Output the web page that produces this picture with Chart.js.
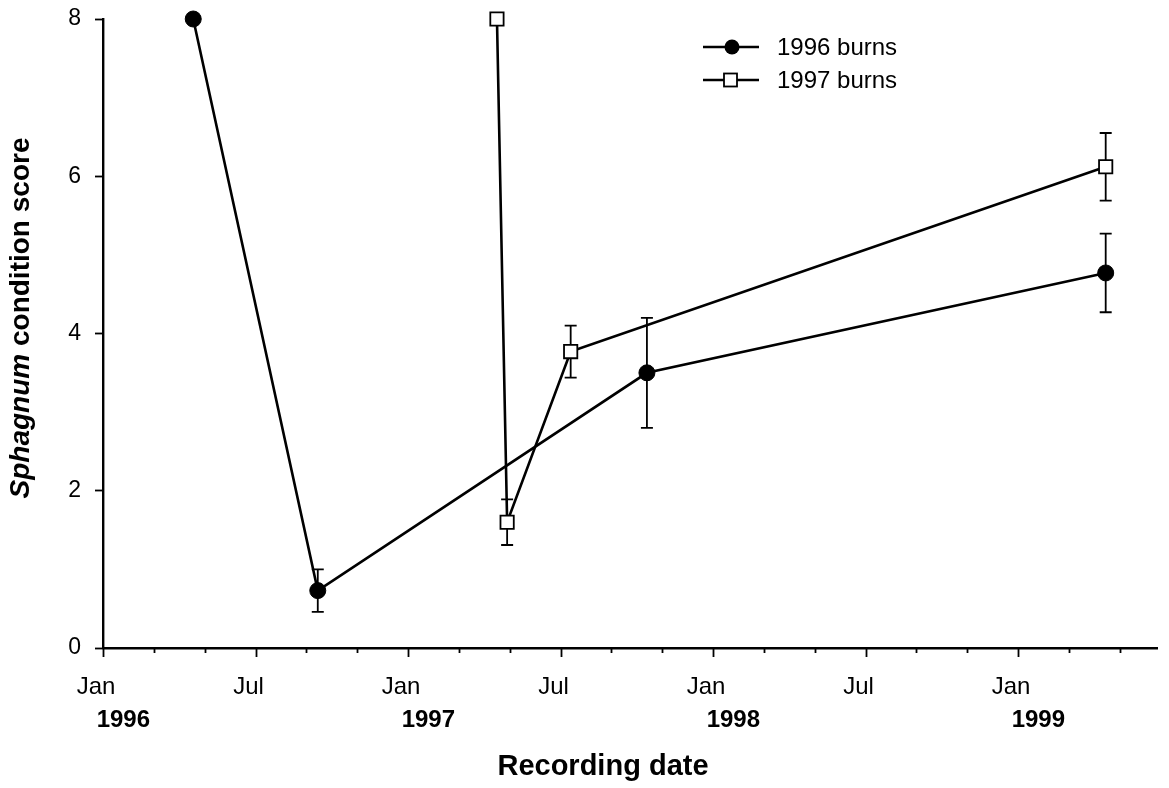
<!DOCTYPE html>
<html>
<head>
<meta charset="utf-8">
<script src="https://cdn.jsdelivr.net/npm/chart.js@4.4.1/dist/chart.umd.min.js"></script>
<style>
  html, body { margin: 0; padding: 0; background: #fff; }
  #wrap { width: 1169px; height: 788px; position: relative; }
</style>
</head>
<body>
<div id="wrap"><canvas id="chart" width="1169" height="788"></canvas></div>
<script>
// Recording dates as months since January 1996
const burns1996Months = [3.55, 8.45, 21.4, 39.45];
const burns1996Score  = [8.0, 0.73, 3.5, 4.77];
const burns1996Err    = [0, 0.27, 0.7, 0.5];

const burns1997Months = [15.5, 15.9, 18.4, 39.45];
const burns1997Score  = [8.0, 1.6, 3.77, 6.12];
const burns1997Err    = [0, 0.29, 0.33, 0.43];

const seriesNames = ['1996 burns', '1997 burns'];

const monthTicks      = [0, 6, 12, 18, 24, 30, 36];
const monthTickLabels = ['Jan', 'Jul', 'Jan', 'Jul', 'Jan', 'Jul', 'Jan'];
const yearTickMonths  = [0, 12, 24, 36];
const yearLabels      = ['1996', '1997', '1998', '1999'];
const yTicks          = [0, 2, 4, 6, 8];

const FONT = "'Liberation Sans', Arial, Helvetica, sans-serif";
Chart.defaults.font.family = FONT;
Chart.defaults.color = '#000';

const toPoints = (xs, ys) => xs.map((x, i) => ({ x: x, y: ys[i] }));

// Vertical error bars with end caps, drawn beneath the markers
const errorBars = {
  id: 'errorBars',
  beforeDatasetsDraw(chart) {
    const ctx = chart.ctx;
    const xs = chart.scales.x, ys = chart.scales.y;
    chart.data.datasets.forEach((ds) => {
      ctx.save();
      ctx.strokeStyle = '#000';
      ctx.lineWidth = 1.8;
      ds.data.forEach((p, i) => {
        const e = ds.errors[i];
        if (!e) return;
        const px = xs.getPixelForValue(p.x);
        const top = ys.getPixelForValue(p.y + e);
        const bot = ys.getPixelForValue(p.y - e);
        ctx.beginPath();
        ctx.moveTo(px, top); ctx.lineTo(px, bot);
        ctx.moveTo(px - 6, top); ctx.lineTo(px + 6, top);
        ctx.moveTo(px - 6, bot); ctx.lineTo(px + 6, bot);
        ctx.stroke();
      });
      ctx.restore();
    });
  }
};

// Month tick marks (long at Jan/Jul), year labels, axis titles and legend
const decorations = {
  id: 'decorations',
  afterDraw(chart) {
    const ctx = chart.ctx;
    const xs = chart.scales.x;
    const area = chart.chartArea;
    ctx.save();
    ctx.strokeStyle = '#000';
    ctx.lineWidth = 1.8;
    for (let m = 0; m <= 40; m += 2) {
      const px = Math.round(xs.getPixelForValue(m)) + 0.5;
      const len = (m % 6 === 0) ? 9 : 5;
      ctx.beginPath();
      ctx.moveTo(px, area.bottom);
      ctx.lineTo(px, area.bottom + len);
      ctx.stroke();
    }

    // year labels beneath January ticks
    ctx.fillStyle = '#000';
    ctx.font = 'bold 24px ' + FONT;
    ctx.textAlign = 'center';
    ctx.textBaseline = 'middle';
    yearTickMonths.forEach((m, i) => {
      ctx.fillText(yearLabels[i], xs.getPixelForValue(m + 0.8), 720);
    });

    // x axis title
    ctx.font = 'bold 29px ' + FONT;
    ctx.fillText('Recording date', 603, 767);

    // y axis title with italic genus name
    ctx.save();
    ctx.translate(21, 318);
    ctx.rotate(-Math.PI / 2);
    const part1 = 'Sphagnum', part2 = ' condition score';
    ctx.font = 'italic bold 28px ' + FONT;
    const w1 = ctx.measureText(part1).width;
    ctx.font = 'bold 28px ' + FONT;
    const w2 = ctx.measureText(part2).width;
    const start = -(w1 + w2) / 2;
    ctx.textAlign = 'left';
    ctx.font = 'italic bold 28px ' + FONT;
    ctx.fillText(part1, start, 0);
    ctx.font = 'bold 28px ' + FONT;
    ctx.fillText(part2, start + w1, 0);
    ctx.restore();

    // legend
    const rows = [47, 80];
    chart.data.datasets.forEach((ds, i) => {
      const y = rows[i];
      ctx.strokeStyle = '#000';
      ctx.lineWidth = 2.6;
      ctx.beginPath();
      ctx.moveTo(703, y); ctx.lineTo(759, y);
      ctx.stroke();
      if (ds.pointStyle === 'circle') {
        ctx.fillStyle = '#000';
        ctx.beginPath();
        ctx.arc(732, y, 7.5, 0, Math.PI * 2);
        ctx.fill();
      } else {
        ctx.fillStyle = '#fff';
        ctx.lineWidth = 1.8;
        ctx.fillRect(724, y - 6.5, 13, 13);
        ctx.strokeRect(724, y - 6.5, 13, 13);
      }
      ctx.fillStyle = '#000';
      ctx.font = '24px ' + FONT;
      ctx.textAlign = 'left';
      ctx.textBaseline = 'middle';
      ctx.fillText(ds.label, 777, y + 1);
    });
    ctx.restore();
  }
};

new Chart(document.getElementById('chart'), {
  type: 'scatter',
  data: {
    datasets: [
      {
        label: seriesNames[0],
        data: toPoints(burns1996Months, burns1996Score),
        errors: burns1996Err,
        showLine: true,
        borderColor: '#000',
        borderWidth: 2.6,
        pointStyle: 'circle',
        pointRadius: 8,
        pointBackgroundColor: '#000',
        pointBorderColor: '#000',
        pointBorderWidth: 1,
        clip: false
      },
      {
        label: seriesNames[1],
        data: toPoints(burns1997Months, burns1997Score),
        errors: burns1997Err,
        showLine: true,
        borderColor: '#000',
        borderWidth: 2.6,
        pointStyle: 'rect',
        pointRadius: 9.4,
        pointBackgroundColor: '#fff',
        pointBorderColor: '#000',
        pointBorderWidth: 1.8,
        clip: false
      }
    ]
  },
  options: {
    responsive: false,
    animation: false,
    layout: { padding: { top: 19, right: 9, left: 0, bottom: 0 } },
    plugins: { legend: { display: false }, tooltip: { enabled: false } },
    elements: { line: { tension: 0 } },
    scales: {
      x: {
        type: 'linear',
        min: 0,
        max: 41.5,
        afterFit(scale) {
          scale.height = 140;
          scale.paddingLeft = 0;
          scale.paddingRight = 0;
        },
        afterBuildTicks(scale) { scale.ticks = monthTicks.map(v => ({ value: v })); },
        border: { display: true, color: '#000', width: 2.4 },
        grid: { display: true, drawOnChartArea: false, drawTicks: false },
        ticks: {
          padding: 25,
          labelOffset: -7,
          maxRotation: 0,
          autoSkip: false,
          font: { size: 24 },
          color: '#000',
          callback(v) { const i = monthTicks.indexOf(v); return i >= 0 ? monthTickLabels[i] : ''; }
        }
      },
      y: {
        min: 0,
        max: 8,
        afterFit(scale) {
          scale.width = 103;
          scale.paddingTop = 0;
          scale.paddingBottom = 0;
        },
        afterBuildTicks(scale) { scale.ticks = yTicks.map(v => ({ value: v })); },
        border: { display: true, color: '#000', width: 2.4 },
        grid: { display: true, drawOnChartArea: false, drawTicks: true, tickLength: 8, color: '#000', tickWidth: 1.8 },
        ticks: { padding: 14, font: { size: 23 }, color: '#000' }
      }
    }
  },
  plugins: [errorBars, decorations]
});
</script>
</body>
</html>
